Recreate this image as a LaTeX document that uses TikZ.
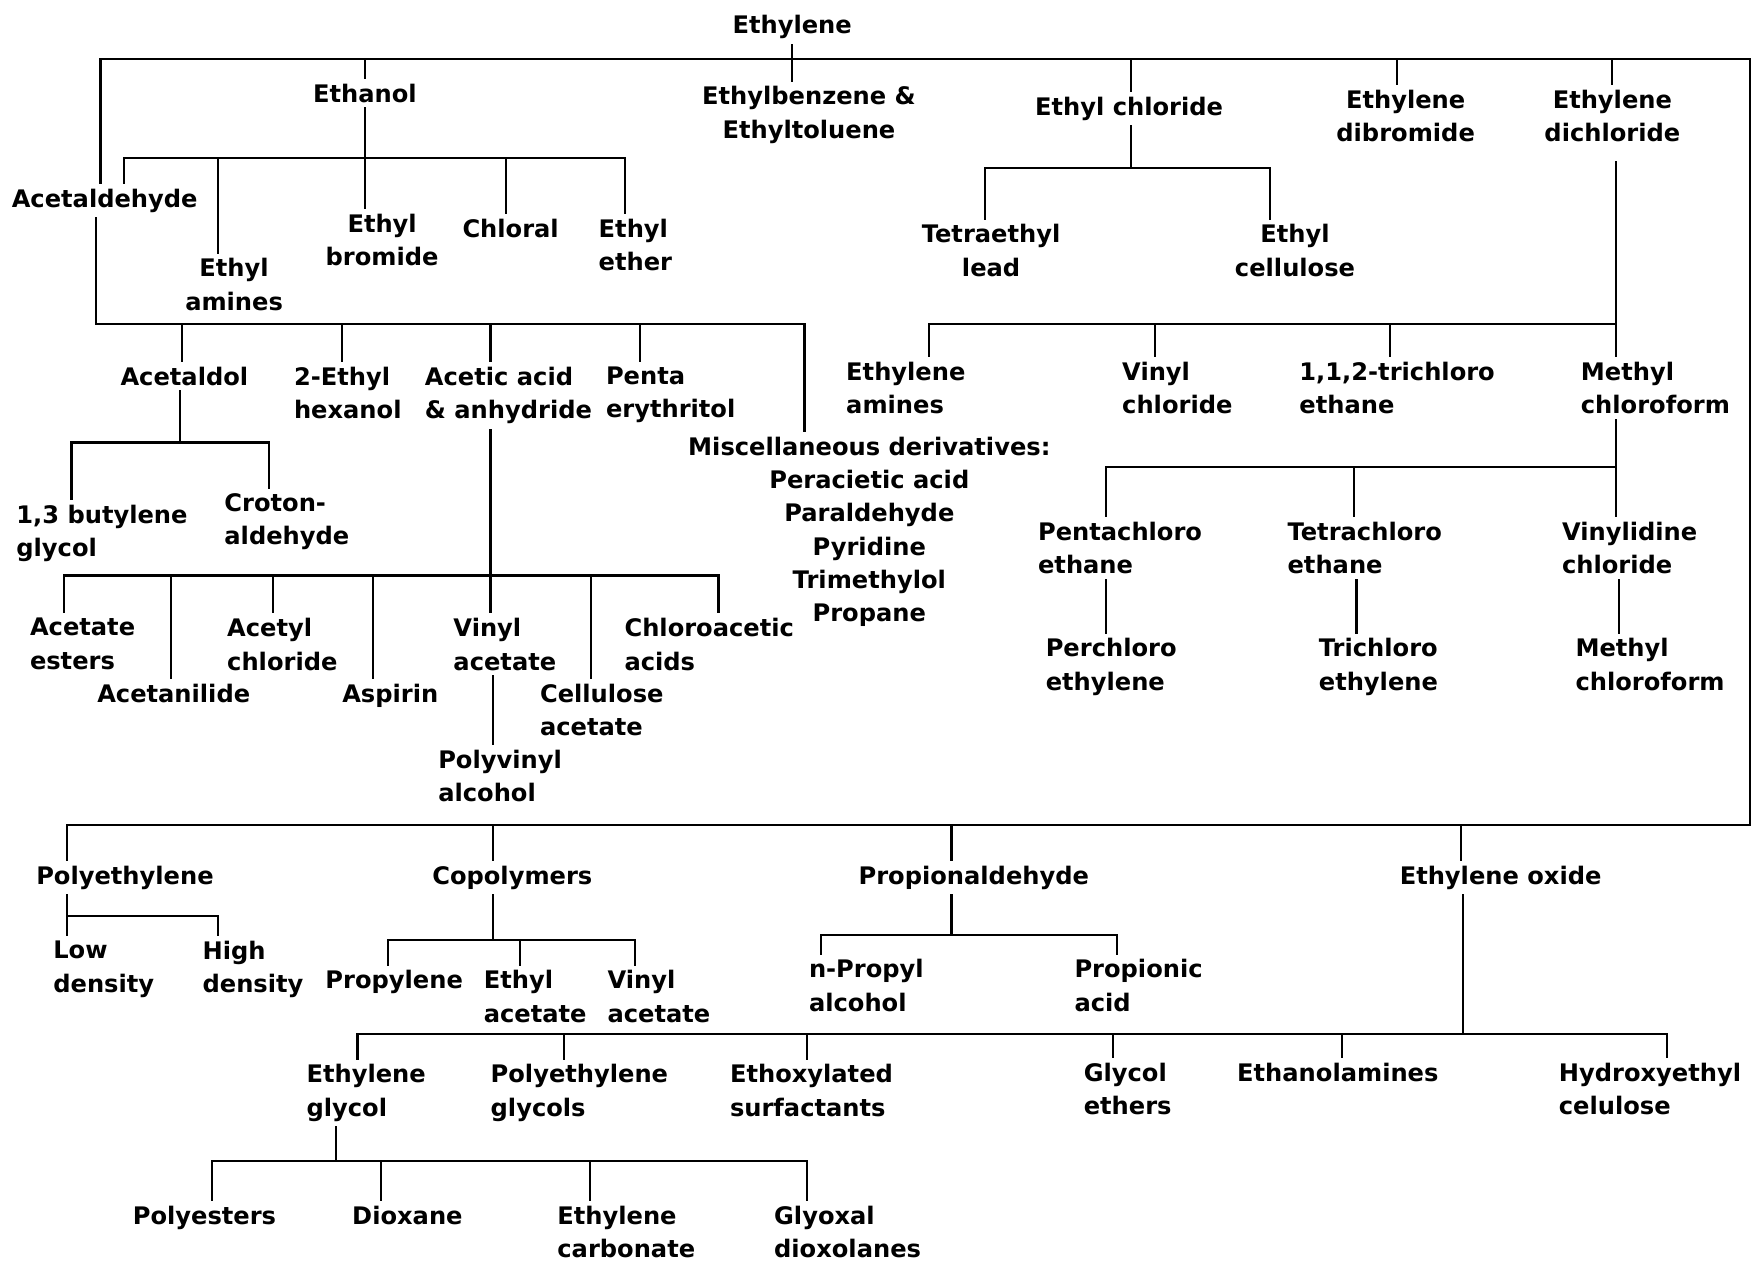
\documentclass[tikz,border=0pt]{standalone}
\usepackage{fontspec}
\setmainfont{DejaVu Sans}
\usetikzlibrary{calc}
\tikzset{
  wire/.style={line width=1.1pt, line cap=rect},
  drop/.style={wire, shorten >=2.8pt},
  rise/.style={wire, shorten <=2.8pt},
  leaf/.style={inner sep=0pt, anchor=north west, align=left},
  cleaf/.style={inner sep=0pt, anchor=north, align=center},
}
\begin{document}
\begin{tikzpicture}[x=0.02cm, y=-0.02cm, font=\fontsize{12.3}{17}\selectfont\bfseries]
	\useasboundingbox (0,0) rectangle (1568,1129);

	% top level
	\node[cleaf] (ethylene) at (709,13.4) {Ethylene};
	\node[cleaf] (ethanol) at (326.6,74.6) {Ethanol};
	\node[cleaf] (ebenz) at (724,77) {Ethylbenzene \&\\Ethyltoluene};
	\node[cleaf] (echl) at (1010.5,86.5) {Ethyl chloride};
	\node[cleaf] (edbr) at (1258,80) {Ethylene\\dibromide};
	\node[cleaf] (edcl) at (1443,80) {Ethylene\\dichloride};

	% ethanol
	\node[leaf] (acald) at (10.2,168.6) {Acetaldehyde};
	\node[cleaf] (eamine) at (209.5,231) {Ethyl\\amines};
	\node[cleaf] (ebrom) at (342,191) {Ethyl\\bromide};
	\node[cleaf] (chloral) at (457,195.4) {Chloral};
	\node[leaf] (ether) at (535.5,195.4) {Ethyl\\ether};

	% ethyl chloride
	\node[cleaf] (tel) at (887,200.5) {Tetraethyl\\lead};
	\node[cleaf] (ecell) at (1159,200.5) {Ethyl\\cellulose};

	% acetaldehyde
	\node[cleaf] (acetaldol) at (165,327.9) {Acetaldol};
	\node[leaf] (ehex) at (262.8,327.9) {2-Ethyl\\hexanol};
	\node[leaf] (acetic) at (380,327.9) {Acetic acid\\\& anhydride};
	\node[leaf] (penta) at (542,327.9) {Penta\\erythritol};
	\node[cleaf] (misc) at (778,390.5) {Miscellaneous derivatives:\\Peracietic acid\\Paraldehyde\\Pyridine\\Trimethylol\\Propane};
	\node[leaf] (bglycol) at (14.3,451.7) {1,3 butylene\\glycol};
	\node[leaf] (croton) at (200.5,441.2) {Croton-\\aldehyde};

	% acetic acid
	\node[leaf] (acest) at (26.5,553) {Acetate\\esters};
	\node[leaf] (acnil) at (86.7,611.9) {Acetanilide};
	\node[leaf] (acchl) at (203,553) {Acetyl\\chloride};
	\node[leaf] (aspirin) at (306,611.9) {Aspirin};
	\node[leaf] (vac) at (405.5,553) {Vinyl\\acetate};
	\node[leaf] (cellac) at (483,611.9) {Cellulose\\acetate};
	\node[leaf] (chlac) at (558.6,553) {Chloroacetic\\acids};
	\node[leaf] (pva) at (391.9,671) {Polyvinyl\\alcohol};

	% ethylene dichloride
	\node[leaf] (eamines) at (757,323.4) {Ethylene\\amines};
	\node[leaf] (vcl) at (1004,323.4) {Vinyl\\chloride};
	\node[leaf] (tce) at (1162.6,323.4) {1,1,2-trichloro\\ethane};
	\node[leaf] (mcf) at (1414.5,323.4) {Methyl\\chloroform};
	\node[leaf] (pcle) at (928.7,466.6) {Pentachloro\\ethane};
	\node[leaf] (tcle) at (1152,466.6) {Tetrachloro\\ethane};
	\node[leaf] (vdcl) at (1397.6,466.6) {Vinylidine\\chloride};
	\node[leaf] (perc) at (935.6,571) {Perchloro\\ethylene};
	\node[leaf] (tric) at (1180,571) {Trichloro\\ethylene};
	\node[leaf] (mcfb) at (1409.7,571) {Methyl\\chloroform};

	% lower half
	\node[leaf] (polyeth) at (32.1,774.8) {Polyethylene};
	\node[cleaf] (copoly) at (458.5,774.8) {Copolymers};
	\node[cleaf] (propald) at (871.5,774.8) {Propionaldehyde};
	\node[cleaf] (eo) at (1343,774.8) {Ethylene oxide};
	\node[leaf] (lowd) at (47.4,841.9) {Low\\density};
	\node[leaf] (highd) at (181,841.9) {High\\density};
	\node[leaf] (propylene) at (290.9,868.2) {Propylene};
	\node[leaf] (etac) at (432.7,868.2) {Ethyl\\acetate};
	\node[leaf] (vinac) at (543.4,868.2) {Vinyl\\acetate};
	\node[leaf] (npa) at (723.7,858.3) {n-Propyl\\alcohol};
	\node[leaf] (propac) at (961.3,858.3) {Propionic\\acid};
	\node[leaf] (eg) at (274,952.3) {Ethylene\\glycol};
	\node[leaf] (peg) at (438.8,952.3) {Polyethylene\\glycols};
	\node[leaf] (ethox) at (653,952.3) {Ethoxylated\\surfactants};
	\node[leaf] (geth) at (969.6,950.8) {Glycol\\ethers};
	\node[leaf] (ethanolam) at (1106.9,950.8) {Ethanolamines};
	\node[leaf] (hec) at (1394.8,950.8) {Hydroxyethyl\\celulose};
	\node[cleaf] (polyest) at (183,1079) {Polyesters};
	\node[cleaf] (dioxane) at (364.6,1079) {Dioxane};
	\node[leaf] (ecarb) at (498.5,1079) {Ethylene\\carbonate};
	\node[leaf] (glyox) at (692.5,1079) {Glyoxal\\dioxolanes};

	% main frame
	\draw[wire, shorten <=2.8pt, shorten >=2.8pt] (90,0 |- acald.north) -- (90,53) -- (1566,53)
		-- (1566,738) -- (60,738) -- (60,0 |- polyeth.north);
	\draw[wire, shorten <=2.8pt, shorten >=2.8pt] (708.5,0 |- ethylene.south) -- (708.5,0 |- ebenz.north);
	\foreach \px/\nd in {326.6/ethanol,1012/echl,1250/edbr,1443/edcl}
		\draw[drop] (\px,53) -- (\px,0 |- \nd.north);
	\foreach \px/\nd in {441.4/copoly,851.6/propald,1307.6/eo}
		\draw[drop] (\px,738) -- (\px,0 |- \nd.north);

	% ethanol
	\draw[wire, shorten <=2.8pt, shorten >=2.8pt] (326.6,0 |- ethanol.south) -- (326.6,0 |- ebrom.north);
	\draw[wire] (111,141.7) -- (559,141.7);
	\foreach \px/\nd in {111/acald,195/eamine,453/chloral,559/ether}
		\draw[drop] (\px,141.7) -- (\px,0 |- \nd.north);

	% acetaldehyde
	\draw[wire, shorten <=2.8pt, shorten >=2.8pt] (86,0 |- acald.south) -- (86,290) -- (720,290) -- (720,0 |- misc.north);
	\foreach \px/\nd in {163/acetaldol,306/ehex,439/acetic,573/penta}
		\draw[drop] (\px,290) -- (\px,0 |- \nd.north);
	\draw[rise] (161,0 |- acetaldol.south) -- (161,396);
	\draw[wire] (64,396) -- (241,396);
	\foreach \px/\nd in {64/bglycol,241/croton}
		\draw[drop] (\px,396) -- (\px,0 |- \nd.north);

	% acetic acid
	\draw[wire, shorten <=2.8pt, shorten >=2.8pt] (439,0 |- acetic.south) -- (439,0 |- vac.north);
	\draw[wire] (57,515) -- (643,515);
	\foreach \px/\nd in {57/acest,153/acnil,244/acchl,334/aspirin,529/cellac,643/chlac}
		\draw[drop] (\px,515) -- (\px,0 |- \nd.north);
	\draw[wire, shorten <=2.8pt, shorten >=2.8pt] (441,0 |- vac.south) -- (441,0 |- pva.north);

	% ethyl chloride
	\draw[rise] (1012,0 |- echl.south) -- (1012,150.6);
	\draw[wire] (881.6,150.6) -- (1136.7,150.6);
	\foreach \px/\nd in {881.6/tel,1136.7/ecell}
		\draw[drop] (\px,150.6) -- (\px,0 |- \nd.north);

	% ethylene dichloride
	\draw[wire, shorten <=10pt, shorten >=2.8pt] (1446,0 |- edcl.south) -- (1446,0 |- mcf.north);
	\draw[wire] (831.6,289.7) -- (1446,289.7);
	\foreach \px/\nd in {831.6/eamines,1034/vcl,1244/tce}
		\draw[drop] (\px,289.7) -- (\px,0 |- \nd.north);
	\draw[wire, shorten <=2.8pt, shorten >=2.8pt] (1446,0 |- mcf.south) -- (1446,0 |- vdcl.north);
	\draw[wire] (989.5,418) -- (1446,418);
	\foreach \px/\nd in {989.5/pcle,1212/tcle}
		\draw[drop] (\px,418) -- (\px,0 |- \nd.north);
	\foreach \px/\up/\nd in {990/pcle/perc,1214/tcle/tric,1449/vdcl/mcfb}
		\draw[wire, shorten <=2.8pt, shorten >=2.8pt] (\px,0 |- \up.south) -- (\px,0 |- \nd.north);

	% polyethylene, copolymers
	\draw[wire, shorten <=2.8pt, shorten >=2.8pt] (60,0 |- polyeth.south) -- (60,0 |- lowd.north);
	\draw[wire] (60,820) -- (195.4,820);
	\draw[drop] (195.4,820) -- (195.4,0 |- highd.north);
	\draw[rise] (441.4,0 |- copoly.south) -- (441.4,841);
	\draw[wire] (347.5,841) -- (568,841);
	\foreach \px/\nd in {347.5/propylene,465.3/etac,568/vinac}
		\draw[drop] (\px,841) -- (\px,0 |- \nd.north);

	% propionaldehyde
	\draw[rise] (851.6,0 |- propald.south) -- (851.6,836.5);
	\draw[wire] (734.8,836.5) -- (1000,836.5);
	\foreach \px/\nd in {734.8/npa,1000/propac}
		\draw[drop] (\px,836.5) -- (\px,0 |- \nd.north);

	% ethylene oxide
	\draw[rise] (1309.4,0 |- eo.south) -- (1309.4,925.4);
	\draw[wire] (320,925.4) -- (1492,925.4);
	\foreach \px/\nd in {320/eg,505/peg,722.6/ethox,996/geth,1201/ethanolam,1492/hec}
		\draw[drop] (\px,925.4) -- (\px,0 |- \nd.north);
	\draw[rise] (301,0 |- eg.south) -- (301,1039);
	\draw[wire] (190,1039) -- (722.6,1039);
	\foreach \px/\nd in {190/polyest,341/dioxane,528/ecarb,722.6/glyox}
		\draw[drop] (\px,1039) -- (\px,0 |- \nd.north);
\end{tikzpicture}
\end{document}
